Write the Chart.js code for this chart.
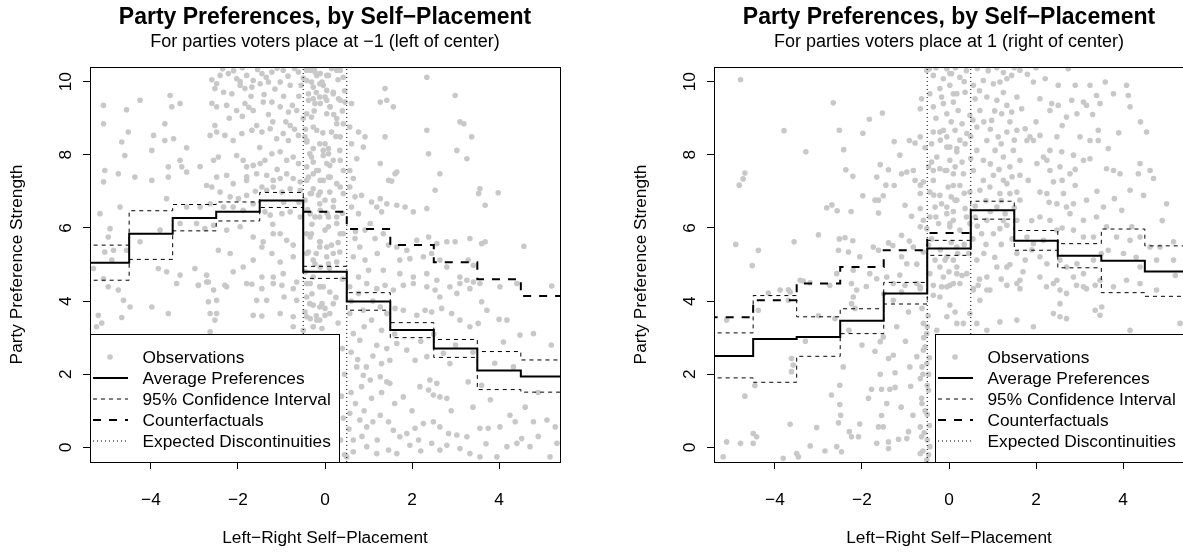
<!DOCTYPE html>
<html><head><meta charset="utf-8">
<script src="https://cdn.jsdelivr.net/npm/chart.js@4.4.0/dist/chart.umd.min.js"></script>
<style>
html,body{margin:0;padding:0;background:#fff;overflow:hidden;width:1183px;height:552px;}
canvas{position:absolute;top:0;}
#c1{left:0;} #c2{left:624px;}
</style></head><body>
<canvas id="c1" width="650" height="552"></canvas>
<canvas id="c2" width="650" height="552"></canvas>
<script>
const FONT = '"Liberation Sans", Arial, Helvetica, sans-serif';

// ---------- data ----------
const selfPlacement = [-5,-4,-3,-2,-1,0,1,2,3,4,5];
const xTicks = [-4,-2,0,2,4];
const yTicks = [0,2,4,6,8,10];
const xRange = [-5.4, 5.4];
const yRange = [-0.4, 10.4];
const discontinuities = [-0.5, 0.5];

const titleText = 'Party Preferences, by Self\u2212Placement';
const subtitleLeft = 'For parties voters place at \u22121 (left of center)';
const subtitleRight = 'For parties voters place at 1 (right of center)';
const xTitle = 'Left\u2212Right Self\u2212Placement';
const yTitle = 'Party Preference Strength';
const legendLabels = ['Observations','Average Preferences','95% Confidence Interval','Counterfactuals','Expected Discontinuities'];

// left panel (parties at -1)
const avgLeft   = [5.05,5.84,6.27,6.44,6.75,4.80,3.99,3.21,2.70,2.10,1.94];
const upperLeft = [5.53,6.47,6.64,6.71,6.97,4.95,4.23,3.41,2.95,2.62,2.39];
const lowerLeft = [4.57,5.14,5.92,6.19,6.56,4.62,3.75,3.00,2.46,1.58,1.51];
const cfLeftBins = [0,1,2,3,4,5];
const cfLeft     = [6.44,5.97,5.53,5.06,4.60,4.14];

// right panel (parties at 1)
const avgRight   = [2.50,2.96,3.02,3.46,4.21,5.44,6.48,5.65,5.24,5.10,4.81];
const upperRight = [3.13,4.15,3.57,3.79,4.51,5.66,6.73,5.93,5.57,5.97,5.51];
const lowerRight = [1.90,1.78,2.49,3.11,3.92,5.25,6.24,5.39,4.91,4.23,4.13];
const cfRightBins = [-5,-4,-3,-2,-1,0];
const cfRight     = [3.56,4.02,4.48,4.93,5.39,5.86];

const obsLeft = [
[-2.41,10.17],[-2.22,10.22],[-2.03,10.08],[-1.80,10.17],[-1.65,10.03],[-1.45,10.22],[-1.22,10.26],[-0.96,10.31],[-0.61,10.26],[-0.34,10.31],[-0.11,10.22],
[-2.49,9.94],[-2.53,9.81],[-2.33,9.71],[-2.14,9.67],[-1.95,9.90],[-1.84,9.81],[-1.68,9.85],[-1.49,9.94],[-1.30,9.99],[-1.03,9.99],[-0.80,9.90],[-0.42,10.03],[-0.27,9.85],[-0.07,9.99],[0.04,9.76],
[-3.56,9.62],[-4.25,9.49],[-5.09,9.35],[-4.56,9.23],[-3.52,9.31],[-3.33,9.40],[-2.60,9.41],[-2.49,9.31],[-2.26,9.35],[-2.03,9.21],[-1.84,9.40],[-1.65,9.21],[-1.42,9.44],[-1.22,9.44],[-1.03,9.31],[-0.84,9.17],[-0.65,9.21],[-0.27,9.53],[-0.11,9.40],[0.04,9.49],
[-5.09,8.85],[-3.68,8.85],[-4.52,8.62],[-4.67,8.35],[-3.94,8.53],[-3.68,8.39],[-3.48,8.44],[-3.18,8.19],[-2.64,8.53],[-2.53,8.80],[-2.49,8.62],[-2.30,8.53],[-2.11,8.39],[-1.91,8.58],[-1.68,8.67],[-1.57,8.80],[-1.45,8.62],[-1.26,8.71],[-1.11,8.44],[-0.96,8.58],[-0.84,8.39],[-0.61,8.53],[-0.42,8.35],[-0.27,8.17],[-0.04,8.12],
[-4.60,7.98],[-3.98,8.12],[-3.33,7.85],[-3.29,7.67],[-3.60,7.67],[-2.87,7.68],[-2.56,7.85],[-2.45,7.94],[-2.03,7.98],[-1.88,7.85],[-1.80,7.67],[-1.65,7.71],[-1.49,7.76],[-1.38,7.85],[-1.22,8.03],[-1.03,8.08],[-0.88,7.85],[-0.73,7.94],[-0.61,7.76],[-0.27,7.80],[0.04,7.76],
[-5.06,7.57],[-4.75,7.48],[-5.09,7.26],[-4.37,7.39],[-3.98,7.30],[-3.60,7.39],[-3.18,7.53],[-2.49,7.39],[-2.26,7.44],[-2.11,7.21],[-1.80,7.30],[-1.57,7.48],[-1.34,7.44],[-1.19,7.30],[-1.03,7.35],[-0.88,7.48],[-0.73,7.35],[-0.57,7.26],[-0.27,7.48],[-0.11,7.30],[0.08,7.39],
[-2.72,7.16],[-2.60,7.12],[-2.41,6.98],[-2.18,6.85],[-1.99,6.80],[-1.80,6.89],[-1.65,6.66],[-1.45,7.12],[-1.34,7.03],[-1.19,7.12],[-0.99,6.98],[-0.80,7.07],[-0.57,7.03],[-0.34,6.94],[-0.11,6.98],
[-4.71,6.57],[-3.64,6.80],[-5.17,6.39],[-3.18,6.57],[-2.87,6.57],[-2.64,6.66],[-2.33,6.57],[-2.11,6.57],[-1.88,6.48],[-1.38,6.44],[-1.26,6.35],[-0.99,6.39],[-0.80,6.44],[-0.57,6.30],[-0.34,6.39],[-0.11,6.48],[0.08,6.30],
[-4.94,5.98],[-4.98,5.75],[-4.86,5.39],[-5.06,5.34],[-4.56,5.39],[-4.25,5.62],[-3.79,5.94],[-3.33,6.12],[-2.95,6.12],[-2.76,5.98],[-2.56,6.07],[-2.26,5.94],[-1.95,6.03],[-1.65,5.75],[-1.42,5.62],[-1.19,5.84],[-1.03,5.84],[-0.88,5.66],[-0.73,5.53],[-0.34,5.75],[-0.11,5.62],[0.04,5.48],
[-5.32,4.89],[-5.09,4.61],[-4.90,5.12],[-3.83,4.89],[-3.64,4.80],[-3.33,4.71],[-2.99,4.89],[-2.72,4.71],[-2.45,5.39],[-2.18,5.30],[-2.11,4.80],[-1.88,4.93],[-1.65,5.12],[-1.45,5.48],[-1.22,5.30],[-1.03,5.07],[-0.73,5.21],[-0.42,5.30],[-0.27,5.12],[-0.11,4.93],[0.08,5.02],
[-4.98,4.39],[-4.75,4.30],[-2.72,4.52],[-2.91,4.43],[-2.56,4.30],[-2.26,4.39],[-1.80,4.48],[-1.45,4.66],[-1.19,4.66],[-0.96,4.75],[-0.65,4.52],[-0.27,4.66],[-0.04,4.39],
[-3.41,4.48],[-2.91,4.43],[-2.68,4.52],[-2.30,4.43],[-1.68,4.46],[-1.45,4.34],[-1.19,4.48],[-0.99,4.43],[-0.73,4.34],[-0.34,4.48],[-0.11,4.39],
[-4.63,4.02],[-4.48,3.84],[-3.98,3.84],[-2.68,3.98],[-2.49,4.02],[-1.57,4.02],[-1.34,4.02],[-0.94,4.11],[-0.65,4.02],[-0.42,4.11],[-0.27,3.89],[-0.07,3.93],
[-5.21,3.61],[-5.13,3.40],[-4.67,3.55],[-3.60,3.66],[-2.64,3.66],[-2.49,3.66],[-2.53,3.48],[-1.65,3.61],[-1.45,3.59],[-1.03,3.66],[-0.73,3.57],[-0.46,3.70],[-0.34,3.52],[-0.19,3.48],[0.00,3.61],
[-5.25,3.30],[-2.64,3.16],[-0.73,3.30],[-0.50,3.20],[-0.27,3.30],[-0.07,3.25],
[-0.42,10.31],[-0.23,10.26],[0.04,10.17],[0.27,10.31],[0.42,10.12],[-0.12,9.94],[0.19,9.71],[-0.38,9.67],[0.00,9.58],[0.31,9.53],[-0.23,9.40],[0.11,9.31],[0.46,9.44],[-0.42,9.12],[0.27,8.99],[0.42,8.85],[-0.27,8.76],[0.15,8.62],[-0.46,8.49],[-0.12,8.30],[0.08,8.17],[0.34,8.12],[-0.35,8.03],[-0.04,7.98],[0.19,7.85],[-0.42,7.67],[-0.15,7.57],[0.11,7.71],[0.42,7.57],[-0.38,7.39],[-0.04,7.30],[0.27,7.21],[-0.27,7.07],[0.11,6.98],[0.42,6.94],[-0.46,6.76],[-0.12,6.66],[0.19,6.57],[-0.23,6.30],[0.27,6.12],[0.00,5.94],[-0.42,5.84],[0.42,5.84],[-0.12,5.62],[0.15,5.53],[-0.38,5.34],[0.34,5.34],[0.04,5.21],[-0.23,5.02],[0.27,5.07],
[0.61,9.40],[0.57,8.76],[0.77,8.62],[0.92,8.49],[0.61,8.30],[0.88,8.21],[0.73,7.89],[0.57,7.57],[0.65,7.35],[0.57,7.12],[0.69,6.85],[0.84,6.89],[0.61,6.57],[0.77,6.39],[1.04,6.12],[0.92,5.94],[0.69,5.71],[0.80,5.48],[0.65,5.21],[0.92,5.12],[1.00,4.84],[0.77,4.66],
[2.34,10.12],[1.38,9.81],[1.27,9.44],[1.42,9.49],[1.57,9.31],[2.99,9.62],[3.10,8.90],[3.19,8.85],[2.34,8.67],[1.38,8.49],[3.37,8.49],[2.38,8.03],[3.03,8.12],[3.26,7.89],[1.27,7.76],[1.65,7.53],[1.61,7.48],[1.46,7.30],[1.53,7.28],[2.64,7.48],[2.53,7.03],[3.56,7.07],[3.53,6.94],[3.98,6.96],[3.68,6.62],[1.27,6.80],[1.07,6.71],[1.19,6.57],[1.42,6.66],[1.65,6.62],[1.84,6.57],[2.03,6.44],[2.34,6.53],[1.30,6.44],
[1.34,5.84],[1.15,5.71],[1.46,5.53],[1.65,5.48],[1.88,5.39],[2.11,5.66],[2.38,5.75],[2.57,5.57],[2.80,5.62],[2.99,5.62],[3.33,5.71],[3.60,5.57],[3.68,5.62],[4.57,5.50],[1.72,5.12],[1.95,5.16],[2.26,5.21],[2.45,5.30],[2.64,5.12],[2.80,4.93],[3.29,5.12],[3.41,4.98],[1.34,4.84],[1.72,4.75],[2.03,4.66],[2.34,4.75],[2.57,4.57],[3.10,4.66],[3.26,4.57],[3.41,4.52],[5.21,4.41],[4.02,4.39],[4.41,4.48],
[-0.42,4.48],[-0.12,4.39],[0.11,4.25],[-0.35,3.93],[-0.12,3.84],[0.19,3.93],[-0.42,3.57],[-0.12,3.48],[0.11,3.66],[-0.27,3.30],
[0.57,4.39],[0.77,4.21],[0.96,4.48],[1.19,4.34],[1.38,4.43],[1.57,4.30],[1.80,4.43],[2.03,4.48],[2.34,4.39],[2.53,4.30],[2.64,4.11],[2.87,4.39],[3.10,4.48],[3.56,4.48],[3.33,4.34],[3.03,4.21],
[0.57,3.66],[0.88,3.75],[1.07,3.48],[1.27,3.84],[1.42,3.66],[1.61,3.80],[1.80,3.75],[2.11,3.61],[2.30,3.75],[2.45,3.70],[2.68,3.80],[2.91,3.66],[3.10,3.48],[3.33,3.30],[3.52,3.39],[3.72,3.75],[4.18,3.48],[4.48,3.07],[4.79,3.11],[4.10,2.88],[3.60,3.98],
[0.65,3.11],[0.80,2.93],[1.19,2.79],[1.42,2.70],[1.65,2.84],[1.88,2.66],[2.07,2.38],[2.34,2.48],[2.72,2.57],[2.87,2.29],[1.49,2.38],[1.30,2.29],
[0.73,2.20],[0.88,1.97],[1.04,1.84],[1.27,1.93],[1.42,1.79],[1.49,1.75],[0.84,1.66],[1.07,1.34],[1.80,1.38],[2.18,1.66],[2.41,1.84],[2.57,1.75],[2.38,1.57],[2.64,1.38],[2.80,1.34],[2.49,1.43],[3.29,1.79],[3.60,1.70],[4.33,2.20],
[0.57,0.93],[0.80,0.75],[0.96,0.56],[1.27,0.88],[1.46,0.70],[1.57,0.47],[1.72,0.29],[1.88,0.38],[2.07,0.52],[2.26,0.65],[2.49,0.70],[2.64,0.56],[2.84,0.38],[3.03,0.34],[3.26,0.29],[3.56,0.52],[3.75,0.52],[4.02,0.56],[4.25,0.88],[4.37,0.70],[4.79,0.70],[5.10,0.75],[5.29,0.56],
[0.65,0.20],[0.96,0.02],[1.19,-0.17],[1.46,-0.07],[1.65,-0.17],[1.95,0.06],[2.15,0.20],[2.45,0.11],[2.64,-0.07],[2.80,0.06],[3.10,-0.03],[3.33,-0.17],[3.56,-0.26],[3.95,-0.26],[4.18,0.02],[4.41,0.11],[4.52,0.24],[4.71,0.02],[5.33,0.11],[5.17,-0.26],[0.50,-0.26],[0.65,-0.12],
[0.40,2.70],[0.45,2.00],[0.38,1.40],[0.42,0.80],[0.36,0.20],[0.45,-0.20],
[-0.42,10.31],[-0.19,10.17],[0.08,10.17],[0.35,10.31],[-0.31,9.99],[-0.04,9.90],[0.19,9.67],[-0.38,9.49],[-0.12,9.58],[0.12,9.31],[0.35,9.49],[-0.31,9.03],[0.04,9.12],[0.27,8.85],[-0.19,8.67],[-0.42,8.39],[0.00,8.30],[0.35,8.49],[-0.31,7.94],[0.08,8.03],[0.35,7.85],[-0.19,7.57],[-0.42,7.30],[0.12,7.39],[0.35,7.12],[-0.31,6.94],[0.00,6.76],[-0.12,6.30],[0.27,6.30],[-0.31,5.84],[0.08,6.03],[0.35,5.84],[-0.12,5.48],[0.19,5.30],
[-1.70,9.60],[-1.30,9.10],[-0.90,8.90],[-0.60,9.60],[-1.50,8.20],[-1.10,7.60],[-0.70,8.70],[-1.80,7.40],[-0.95,6.70],[-1.60,7.00],[-0.60,6.70],[-1.20,6.10],
[-2.35,10.35],[-2.10,10.30],[-1.90,10.38],[-1.55,10.33],[-1.35,10.12],[-1.10,10.37],[-0.85,10.15],[-0.70,10.36],[-0.50,10.10],[-0.25,10.36],[0.15,10.36],[0.30,10.05],[-2.60,10.05],[-1.95,10.00],[-1.15,9.80],[-0.55,9.90],[-0.20,9.70],[0.45,9.75],
[-1.75,9.30],[-1.40,9.65],[-0.95,9.60],[-0.75,9.35],[-0.50,9.00],[-0.25,9.20],[0.20,9.10],[0.40,9.20],[-1.20,8.90],[-0.80,8.80],[-0.45,8.70],[-0.05,8.60],[0.25,8.50],[-1.90,9.05],[-2.20,9.00],
[-0.40,6.50],[-0.15,6.90],[0.20,6.75],[0.40,6.40],[-0.30,6.10],[0.05,6.40],[0.30,5.60],[-0.20,5.30],[0.10,4.90],[-0.45,4.80],[0.40,4.60],[-0.30,4.20],[0.25,4.10],[0.00,3.80],[-0.20,3.60],[0.30,3.40],
[0.60,2.60],[0.75,2.40],[0.95,2.20],[0.60,1.50],[0.70,1.20],[0.90,1.00],[1.10,0.70],[0.55,0.50],[0.85,0.30],[1.20,0.20],[1.30,1.50],[1.10,2.50],[0.60,4.00],[0.90,3.30],[1.30,3.20],[1.60,3.10],[1.10,4.00],[0.70,5.90],[1.20,5.30],
[2.20,2.90],[2.50,3.10],[3.00,2.80],[3.40,2.60],[3.90,2.30],[2.90,1.00],[3.40,1.10],[3.80,1.30],[4.60,1.10],[4.90,1.50],[5.20,2.80],[4.00,3.50],[2.00,1.00],[1.60,1.20],[2.20,-0.10],[3.70,0.10],[4.90,0.30]
];

const obsRight = [
[-4.79,10.05],[-2.66,9.42],[-1.53,9.14],[-1.83,8.97],[-3.79,8.66],[-2.52,8.67],[-1.98,8.59],[-3.29,8.08],[-2.42,8.14],[-1.26,8.36],[-1.13,7.99],[-0.91,8.39],[-0.78,8.32],[-0.66,8.49],[-0.55,8.19],[-0.66,9.26],[-0.63,9.53],[-0.44,9.67],[-0.51,10.31],[-0.36,10.17],[-0.21,9.81],[0.02,9.90],[0.10,9.44],[-0.13,9.40],[-0.36,9.31],[0.18,9.67],[0.06,10.22],
[-4.69,7.50],[-4.73,7.34],[-4.82,7.17],[-2.37,7.59],[-2.21,7.41],[-1.66,7.39],[-1.58,7.73],[-1.39,7.59],[-1.45,7.17],[-1.26,7.16],[-1.09,7.48],[-0.97,7.53],[-0.82,7.57],[-0.78,7.30],[-0.66,7.17],[-0.59,7.26],[-0.47,7.67],[-0.36,7.57],[-0.21,7.62],[-0.05,7.57],[0.10,7.48],[0.02,7.85],[-0.28,7.94],[-0.36,8.62],[-0.21,8.62],[-0.05,8.49],[0.18,8.17],[0.02,8.21],
[-1.98,6.88],[-1.51,6.88],[-1.70,6.76],[-1.62,6.76],[-2.81,6.55],[-2.69,6.63],[-2.57,6.47],[-2.25,6.45],[-1.62,6.41],[-1.01,6.62],[-0.86,6.32],[-0.66,6.53],[-0.59,6.21],[-0.44,6.30],[-0.32,6.57],[-0.17,6.66],[-0.05,6.39],[0.10,6.21],[-0.24,6.12],[0.02,6.03],[-0.51,5.98],[-0.66,6.94],[-0.44,6.98],[-0.21,6.89],[0.14,6.76],[-0.36,7.30],[0.10,7.16],
[-4.90,5.55],[-4.38,5.39],[-4.52,4.97],[-3.56,5.62],[-3.00,5.81],[-2.52,5.70],[-2.39,5.73],[-2.21,5.65],[-2.54,5.39],[-2.31,5.34],[-2.05,5.21],[-1.74,5.48],[-1.62,5.39],[-1.39,5.59],[-1.29,5.52],[-1.09,5.80],[-0.91,5.64],[-0.82,5.48],[-0.66,6.03],[-1.09,5.21],[-0.97,5.02],[-0.74,5.01],[-0.59,5.34],[-0.47,5.53],[-0.32,5.12],[-0.21,4.93],[-0.05,5.21],[0.10,5.12],[0.18,5.48],[-0.44,4.75],[-0.13,4.66],[0.10,4.48],[0.18,4.75],
[-2.58,4.75],[-2.20,4.84],[-1.82,4.75],[-1.66,4.61],[-1.43,4.66],[-1.28,4.48],[-1.13,4.71],[-3.35,4.55],[-3.19,4.50],[-3.69,4.31],[-3.88,4.30],[-0.66,4.39],
[-0.13,10.08],[0.02,10.22],[0.25,10.12],[0.56,9.90],[0.79,10.03],[1.02,9.94],[1.17,9.99],[1.33,10.08],[1.44,10.17],[1.63,10.31],
[-0.17,9.58],[0.10,9.67],[0.37,9.71],[0.60,9.53],[0.87,9.58],[1.10,9.49],[1.33,9.35],[1.56,9.58],
[-0.05,9.12],[0.21,9.21],[0.48,9.08],[0.71,9.21],[0.98,8.94],[1.21,9.12],[1.44,9.17],[1.67,9.26],
[-0.13,8.67],[0.14,8.67],[0.41,8.58],[0.64,8.76],[0.87,8.39],[1.13,8.49],[1.33,8.62],[1.56,8.67],[1.79,8.39],
[-0.05,8.21],[0.18,8.08],[0.37,8.30],[0.64,8.12],[0.79,7.85],[1.06,8.12],[1.25,7.94],[1.48,8.12],[1.63,7.85],
[-0.09,7.57],[0.14,7.67],[0.33,7.48],[0.56,7.57],[0.79,7.30],[1.02,7.44],[1.25,7.30],[1.40,7.67],[1.63,7.44],[1.82,7.30],
[-0.02,7.12],[0.25,7.16],[0.48,6.98],[0.71,7.03],[0.94,7.12],[1.17,6.94],[1.33,7.21],[1.56,6.98],
[-0.05,6.57],[0.18,6.76],[0.37,6.53],[0.60,6.30],[0.87,6.21],[1.10,6.57],[1.29,6.39],[1.40,6.94],[1.63,6.76],
[0.02,6.12],[0.25,5.94],[0.48,6.12],[0.75,5.84],[1.02,5.84],[1.17,5.98],[1.33,6.07],[1.56,6.21],
[-0.09,5.12],[0.18,4.93],[0.41,4.75],[0.64,5.12],[0.87,4.66],[1.10,4.93],[1.33,4.93],[1.56,5.30],[1.75,5.12],
[-0.05,4.39],[0.25,4.48],[0.56,4.30],[0.94,4.30],[1.33,4.43],[1.63,4.57],
[1.94,9.99],[2.21,10.08],[2.51,9.90],[2.74,10.35],[2.90,9.90],[3.24,9.90],[3.59,9.99],[4.08,9.90],[4.12,9.62],[4.16,9.31],
[2.09,9.53],[2.36,9.40],[2.51,9.35],[2.82,9.49],[3.09,9.44],[3.16,9.35],[3.39,9.62],[2.32,9.21],[2.70,9.03],[2.94,9.12],[3.47,9.40],[3.78,9.67],[4.54,8.62],
[1.75,8.71],[1.86,8.49],[1.94,8.39],[2.09,8.53],[2.48,8.49],[3.01,8.49],[3.24,8.39],[3.43,8.67],[3.43,8.39],[3.66,8.17],
[2.32,8.12],[2.59,8.08],[2.86,7.99],[3.24,7.89],[2.17,7.94],[2.02,7.76],[2.25,7.85],[2.32,7.57],[2.55,7.67],[2.78,7.48],[3.09,7.85],[3.62,7.62],[3.78,7.57],[3.93,7.48],[4.39,7.76],[4.62,7.57],[4.35,7.48],[4.70,7.35],
[2.40,7.26],[2.90,7.16],[2.63,6.94],[2.09,6.98],[2.25,6.94],[2.48,6.66],[2.70,6.57],[2.78,6.39],[2.86,6.66],[3.16,6.76],[3.55,6.57],[3.97,6.48],[3.39,6.30],[3.09,6.21],[5.00,6.66],[4.16,7.03],[4.47,6.89],[2.09,6.30],[2.32,6.21],
[2.17,5.66],[1.79,5.75],[1.94,5.57],[2.48,5.94],[2.86,5.94],[3.09,5.75],[3.32,5.75],[3.62,6.03],[3.85,5.75],[4.20,6.03],[4.16,5.66],[4.39,5.75],[5.16,5.62],[4.62,5.48],[4.85,5.48],
[2.09,5.21],[2.25,5.02],[2.55,5.12],[2.70,4.93],[2.94,5.02],[3.09,4.75],[3.32,5.12],[3.66,5.39],[4.01,5.30],[4.39,4.93],[4.77,5.12],[5.16,5.12],
[2.09,4.66],[2.48,4.57],[2.86,4.66],[3.09,4.39],[3.47,4.57],[3.78,4.39],[4.08,4.57],[4.39,4.48],[4.77,4.30],
[-5.11,3.48],[-4.69,1.40],[-4.46,1.69],[-4.15,4.22],[-3.65,4.25],[-3.69,4.02],[-4.38,3.75],[-3.42,4.57],[-2.74,4.43],[-2.24,4.48],[-2.12,4.30],[-2.20,4.11],[-2.24,3.93],[-2.16,3.80],[-2.62,3.52],[-2.43,2.20],[-2.51,1.70],[-2.70,1.43],[-2.51,1.17],[-2.49,0.88],[-2.54,0.67],[-2.05,0.64],[-2.29,0.43],[-2.24,0.29],[-2.08,0.29],[-2.58,0.02],[-2.47,-0.12],[-2.85,-0.10],[-3.04,0.54],[-3.19,0.04],[-3.65,0.63],[-3.81,-0.30],[-3.46,-0.26],[-4.50,0.38],[-4.42,0.29],[-4.50,0.11],[-5.11,0.15],[-4.79,0.11],[-5.19,-0.26],[-3.62,2.43],[-3.58,2.25],[-3.62,2.07],[-3.50,-0.17],
[-1.70,2.63],[-1.58,2.89],[-1.51,3.02],[-1.39,2.43],[-1.28,2.52],[-1.58,2.00],[-1.55,1.59],[-1.36,1.59],[-1.24,1.64],[-1.24,2.04],[-1.43,1.20],[-1.78,1.59],[-1.85,1.34],[-1.55,0.87],[-1.62,0.56],[-1.51,0.56],[-1.39,0.15],[-1.66,0.11],[-1.39,-0.03],[-1.16,0.22],[-0.93,0.43],[-0.97,0.24],[-0.83,0.88],[-0.66,0.56],[-0.63,1.34],[-0.66,1.88],[-0.88,1.67],[-0.74,2.48],[-0.59,3.39],[-0.51,3.11],[-0.59,2.66],[-0.51,2.29],[-0.47,1.56],[-0.63,0.29],[-0.66,-0.17],[-0.44,0.02],[-0.51,-0.35],
[-1.28,4.02],[-1.09,4.25],[-0.93,3.70],[-1.01,4.43],[-0.74,4.48],[-0.66,4.34],[-0.36,4.43],[-0.17,4.39],[0.02,4.43],[-0.36,4.16],[-0.21,4.11],[0.02,3.89],[0.14,3.70],[0.18,3.39],[-0.05,3.57],[-0.28,3.20],
[0.56,4.34],[0.67,4.43],[0.87,4.30],[1.56,4.48],[1.63,4.34],[2.24,4.39],[2.40,4.48],[2.55,4.30],[2.93,4.43],[3.16,4.34],[3.36,4.43],[2.70,4.21],[0.71,4.02],[0.48,3.66],[0.33,3.39],[0.64,3.39],[1.17,3.43],[1.56,3.48],[1.94,3.30],[2.40,3.66],[2.55,3.57],[2.70,3.52],[3.36,3.75],[3.51,3.84],[3.47,3.61],[2.55,3.93],[4.16,3.20],[5.31,3.39],[0.87,3.20],
[-0.55,2.75],[-0.45,2.45],[-0.60,2.00],[-0.50,1.70],[-0.55,1.00],[-0.45,0.60],[-0.60,-0.10],[-0.50,0.20],
[-0.45,10.35],[-0.30,10.38],[-0.05,10.35],[0.15,10.38],[0.40,10.30],[0.65,10.36],[0.90,10.30],[1.10,10.38],[1.25,10.25],[1.50,10.38],[1.80,10.20],[2.00,10.38],[0.35,10.00],[0.70,9.75],[1.25,9.70],
[-0.30,9.00],[0.05,8.90],[0.30,8.85],[0.55,8.95],[0.80,8.90],[1.05,9.20],[1.40,8.90],[-0.40,8.30],[-0.20,8.40],[0.25,8.40],[0.50,8.50],[0.95,8.70],[1.20,8.30],[1.50,8.40],[-0.40,7.80],[0.30,7.80],[0.50,7.90],[0.95,7.75],[1.15,7.60],[1.45,7.40],
[-0.35,6.90],[0.05,6.85],[0.35,6.95],[0.60,6.60],[0.85,6.75],[1.20,6.75],[1.50,6.55],[-0.30,6.30],[0.10,6.45],[0.40,6.30],[0.65,6.05],[0.95,6.45],[1.25,6.20],[-0.40,5.70],[0.05,5.60],[0.35,5.55],[0.55,5.70],[0.85,5.55],[1.20,5.55],[1.45,5.70],[-0.20,5.40],[0.20,5.30],[0.45,5.30],[0.80,5.30],[1.05,5.20],[1.40,5.00],[0.00,4.80],[0.30,4.70],[0.70,4.60],[1.20,4.60],[1.70,4.80],[1.90,5.40],
[-0.62,3.80],[-0.48,3.60],[-0.58,3.00],[-0.47,2.00],[-0.62,1.20],[-0.50,0.90],[-0.57,0.40],[-0.47,-0.20],[-0.62,2.20],[-0.50,3.30],
[-1.20,3.30],[-1.00,2.90],[-0.90,2.20],[-1.10,1.10],[-2.00,2.80],[-2.30,3.20],[-3.00,3.60],[-3.30,2.90],[-1.90,4.40],[-1.50,4.20],
[2.30,6.70],[2.60,7.30],[3.40,7.00],[3.80,6.80],[2.90,7.60],[2.00,8.90],[2.60,8.80],[3.30,9.10],[3.90,8.60],[4.40,8.90],[1.90,6.20],[2.60,6.00],[3.50,5.30],[4.30,5.20],[5.20,4.70],[4.90,6.20]
];

// ---------- styles ----------
const POINT_COLOR = '#c8c8c8';
const STY = {
  avg:  {borderColor:'#000', borderWidth:2, borderDash:[]},
  ci:   {borderColor:'#000', borderWidth:1, borderDash:[4,4]},
  cf:   {borderColor:'#000', borderWidth:2, borderDash:[8,8]},
  disc: {borderColor:'#000', borderWidth:1, borderDash:[1,3]}
};

function stepData(bins, vals){
  const pts = bins.map((b,i)=>({x:b-0.5, y:vals[i]}));
  pts.push({x:bins[bins.length-1]+0.5, y:vals[vals.length-1]});
  return pts;
}
function lineDS(label, data, sty, stepped){
  return Object.assign({label, data, showLine:true, stepped: stepped ? 'before' : false,
    pointRadius:0, pointHoverRadius:0, fill:false, clip:0, borderCapStyle:'butt', tension:0}, sty);
}
const fmt = v => v < 0 ? '\u2212' + Math.abs(v) : String(v);

const legendPlugin = {
  id:'rlegend',
  afterDatasetsDraw(chart, args, opts){
    const {ctx, chartArea:a} = chart;
    const w = 249, h = 128;
    const left = opts.side === 'left' ? Math.round(a.left) : Math.round(a.right) - w;
    const top = Math.round(a.bottom) - h;
    ctx.save();
    ctx.fillStyle = '#fff';
    ctx.fillRect(left, top, w, h);
    ctx.strokeStyle = '#000'; ctx.lineWidth = 1; ctx.setLineDash([]);
    ctx.strokeRect(left+0.5, top+0.5, w, h);
    const kinds = ['pt','avg','ci','cf','disc'];
    ctx.font = '17.3px ' + FONT;
    ctx.textBaseline = 'middle'; ctx.textAlign = 'left'; ctx.fillStyle = '#000';
    kinds.forEach((k,i)=>{
      const y = top + 23 + i*21;
      if (k === 'pt') {
        ctx.fillStyle = POINT_COLOR;
        ctx.beginPath(); ctx.arc(left+20, y, 2.8, 0, Math.PI*2); ctx.fill();
      } else {
        const s = STY[k];
        ctx.strokeStyle = s.borderColor; ctx.lineWidth = s.borderWidth; ctx.setLineDash(s.borderDash);
        ctx.lineCap = 'butt';
        ctx.beginPath(); ctx.moveTo(left+3, y); ctx.lineTo(left+38, y); ctx.stroke();
      }
      ctx.setLineDash([]);
      ctx.fillStyle = '#000';
      ctx.fillText(legendLabels[i], left+52.5, y+1);
    });
    ctx.restore();
  }
};
const boxPlugin = {
  id:'rbox',
  afterDraw(chart){
    const {ctx, chartArea:a} = chart;
    ctx.save();
    ctx.strokeStyle = '#000'; ctx.lineWidth = 1;
    ctx.strokeRect(Math.round(a.left)+0.5, Math.round(a.top)+0.5, Math.round(a.right)-Math.round(a.left), Math.round(a.bottom)-Math.round(a.top));
    ctx.restore();
  }
};

function makeChart(id, subtitle, obs, avg, upper, lower, cfBins, cf, side){
  const datasets = [
    lineDS('Average Preferences', stepData(selfPlacement, avg), STY.avg, true),
    lineDS('Counterfactuals', stepData(cfBins, cf), STY.cf, true),
    lineDS('95% CI upper', stepData(selfPlacement, upper), STY.ci, true),
    lineDS('95% CI lower', stepData(selfPlacement, lower), STY.ci, true),
    ...discontinuities.map(d => lineDS('Expected Discontinuities', [{x:d,y:yRange[0]},{x:d,y:yRange[1]}], STY.disc, false)),
    {label:'Observations', data: obs.map(p=>({x:p[0], y:p[1]})), showLine:false,
     pointRadius:2.8, pointHoverRadius:2.8, pointBackgroundColor:POINT_COLOR, pointBorderWidth:0, clip:0}
  ];
  return new Chart(document.getElementById(id), {
    type:'scatter',
    data:{datasets},
    plugins:[legendPlugin, boxPlugin],
    options:{
      responsive:false, animation:false, devicePixelRatio:1,
      layout:{padding:0},
      plugins:{
        legend:{display:false}, tooltip:{enabled:false},
        rlegend:{side},
        title:{display:true, text:titleText, color:'#000',
          font:{family:FONT, size:23, weight:'bold', lineHeight:1.2}, padding:{top:4, bottom:0}},
        subtitle:{display:true, text:subtitle, color:'#000',
          font:{family:FONT, size:18, weight:'normal', lineHeight:1.2}, padding:{top:0, bottom:13.8}}
      },
      scales:{
        x:{type:'linear', position:'bottom', min:xRange[0], max:xRange[1],
          afterBuildTicks:s=>{ s.ticks = xTicks.map(v=>({value:v})); },
          afterFit:s=>{ s.height = 90; },
          ticks:{callback:fmt, color:'#000', font:{family:FONT, size:17.3}, padding:21, maxRotation:0, minRotation:0, autoSkip:false},
          grid:{display:true, drawOnChartArea:false, drawTicks:true, tickLength:7, color:'#000', lineWidth:1},
          border:{display:true, color:'#000', width:1},
          title:{display:true, text:xTitle, color:'#000', font:{family:FONT, size:17.3, lineHeight:1.2}, padding:{top:0, bottom:3}}
        },
        y:{type:'linear', position:'left', min:yRange[0], max:yRange[1],
          afterBuildTicks:s=>{ s.ticks = yTicks.map(v=>({value:v})); },
          afterFit:s=>{ s.width = 90; },
          ticks:{callback:fmt, color:'#000', font:{family:FONT, size:17.3}, padding:7.5, minRotation:90, maxRotation:90, crossAlign:'center', autoSkip:false},
          grid:{display:true, drawOnChartArea:false, drawTicks:true, tickLength:7, color:'#000', lineWidth:1},
          border:{display:true, color:'#000', width:1},
          title:{display:true, text:yTitle, color:'#000', font:{family:FONT, size:17.3, lineHeight:1.2}, padding:{top:6.5, bottom:0}}
        },
        y2:{type:'linear', position:'right', min:yRange[0], max:yRange[1], display:true,
          afterFit:s=>{ s.width = 90; },
          ticks:{display:false}, grid:{display:false, drawTicks:false}, border:{display:false}
        }
      }
    }
  });
}

makeChart('c1', subtitleLeft, obsLeft, avgLeft, upperLeft, lowerLeft, cfLeftBins, cfLeft, 'left');
makeChart('c2', subtitleRight, obsRight, avgRight, upperRight, lowerRight, cfRightBins, cfRight, 'right');
</script>
</body></html>
